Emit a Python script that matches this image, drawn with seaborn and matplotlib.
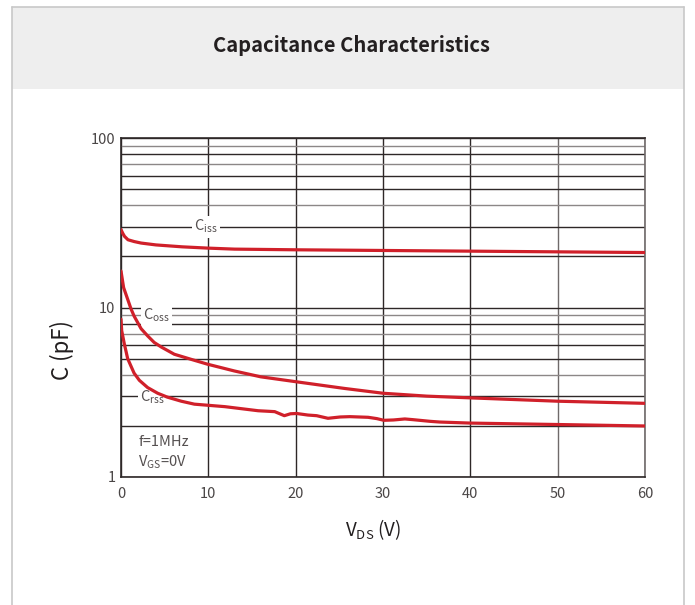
import numpy as np
import pandas as pd
import matplotlib
matplotlib.use("Agg")
import matplotlib.pyplot as plt
from matplotlib.patches import Rectangle
from matplotlib.lines import Line2D
import seaborn as sns

# Capacitance vs drain-source voltage
vds_iss = [0, 0.2, 0.4, 0.8, 1.5, 2.3, 4, 7, 10, 13, 20, 30, 40, 50, 60]
c_iss = [28.8, 27.4, 26.3, 25.1, 24.5, 24.0, 23.4, 22.8, 22.4, 22.1, 21.9, 21.7, 21.5, 21.3, 21.1]

vds_oss = [0, 0.3, 0.76, 1.15, 1.5, 2.3, 3.05, 3.8, 4.6, 6.1, 8, 9.9, 13, 16, 20, 25.6, 30, 35, 40, 50, 60]
c_oss = [16.4, 13.1, 11.2, 9.8, 8.9, 7.5, 6.8, 6.22, 5.85, 5.3, 4.95, 4.63, 4.22, 3.9, 3.65, 3.33,
         3.12, 3.0, 2.93, 2.8, 2.72]

vds_rss = [0, 0.08, 0.38, 0.58, 0.76, 1.15, 1.5, 2.1, 3.05, 4.2, 5.3, 6.9, 8.4, 11.9, 15.7, 17.6,
           18.7, 19.4, 20.1, 21.4, 22.4, 23.7, 25.1, 26.2, 28.3, 29.3, 30.1, 31.2, 32.5, 33.4,
           35.4, 36.5, 40, 50, 60]
c_rss = [8.53, 7.3, 6.1, 5.5, 5.0, 4.5, 4.1, 3.72, 3.37, 3.12, 2.96, 2.8, 2.69, 2.6, 2.46, 2.43,
         2.3, 2.36, 2.37, 2.32, 2.3, 2.22, 2.26, 2.27, 2.25, 2.21, 2.16, 2.17, 2.2, 2.18,
         2.13, 2.11, 2.08, 2.04, 2.0]

x_ticks = [0, 10, 20, 30, 40, 50, 60]
y_ticks = [1, 10, 100]

sns.set_theme(style="white")
plt.rcParams["font.family"] = ["Noto Sans CJK SC", "DejaVu Sans"]
plt.rcParams["mathtext.fontset"] = "custom"
plt.rcParams["mathtext.rm"] = "Noto Sans CJK SC"

red = "#d0202a"
dark = "#2e2828"
grey = "#8c8787"
txt = "#4a4646"

fig = plt.figure(figsize=(6.95, 6.05), dpi=100)
W, H = 695, 605

# card frame and header band
fig.add_artist(Rectangle((12 / W, 1 - 89 / H), 672 / W, 82 / H, transform=fig.transFigure,
                         facecolor="#eeeeee", edgecolor="none", zorder=0))
for xs, ys in [([12, 12], [7, 605]), ([684, 684], [7, 605]), ([12, 684], [7, 7])]:
    fig.add_artist(Line2D([x / W for x in xs], [1 - y / H for y in ys],
                          transform=fig.transFigure, color="#c8c8c8", lw=1.2))
fig.text(351 / W, 1 - 46 / H, "Capacitance Characteristics", ha="center", va="center",
         fontsize=14.5, fontweight="semibold", color="#231f20")

ax = fig.add_axes([121 / W, 1 - 477 / H, 524 / W, 339 / H])
ax.set_yscale("log")
ax.set_xlim(0, 60)
ax.set_ylim(1, 100)

# grid
ax.set_xticks(x_ticks)
ax.set_yticks(y_ticks)
ax.set_yticklabels([str(v) for v in y_ticks])
minor_locs = [m * 10 ** e for e in (0, 1) for m in range(2, 10)]
ax.set_yticks(minor_locs, minor=True)
ax.yaxis.set_minor_formatter(matplotlib.ticker.NullFormatter())
ax.grid(True, which="major", axis="both", color=dark, lw=1.0)
ax.grid(True, which="minor", axis="y", color=dark, lw=1.0)
for v, t in zip(minor_locs, ax.yaxis.get_minor_ticks()):
    m = round(v / 10 ** np.floor(np.log10(v) + 1e-9))
    if m in (4, 7, 9):
        t.gridline.set_color(grey)
for xv, t in zip(x_ticks, ax.xaxis.get_major_ticks()):
    if xv == 50:
        t.gridline.set_color("#6f6a6a")
ax.set_axisbelow(True)
for s in ax.spines.values():
    s.set_color(dark)
    s.set_linewidth(1.2)
ax.spines["right"].set_color("#6f6a6a")

ax.tick_params(which="both", length=0, labelsize=10.5, labelcolor=txt)
ax.tick_params(axis="x", pad=7)
ax.tick_params(axis="y", pad=4)

# curves
for v, c in [(vds_iss, c_iss), (vds_oss, c_oss), (vds_rss, c_rss)]:
    sns.lineplot(x=v, y=c, ax=ax, color=red, lw=2.3, estimator=None, sort=False, zorder=5,
                 solid_joinstyle="round", solid_capstyle="round")

box = dict(facecolor="white", edgecolor="none", pad=1.5)
lbl = dict(fontsize=10.5, color="#555050", va="center", zorder=4)
ax.text(8.4, 30, r"C$_{\rm iss}$", bbox=box, **lbl)
ax.text(2.5, 9.0, r"C$_{\rm oss}$", bbox=box, **lbl)
ax.text(2.2, 2.95, r"C$_{\rm rss}$", bbox=box, **lbl)
ax.text(1.95, 1.61, "f=1MHz", **lbl)
ax.text(1.95, 1.23, r"V$_{\rm GS}$=0V", **lbl)

ax.set_xlabel(r"V$_{\rm DS}$ (V)", fontsize=13.5, color="#231f20")
ax.set_ylabel("C (pF)", fontsize=16, color="#231f20")
ax.xaxis.set_label_coords(0.481, -0.119)
ax.yaxis.set_label_coords(-0.09, 0.375)

fig.savefig("out.png", dpi=100)
